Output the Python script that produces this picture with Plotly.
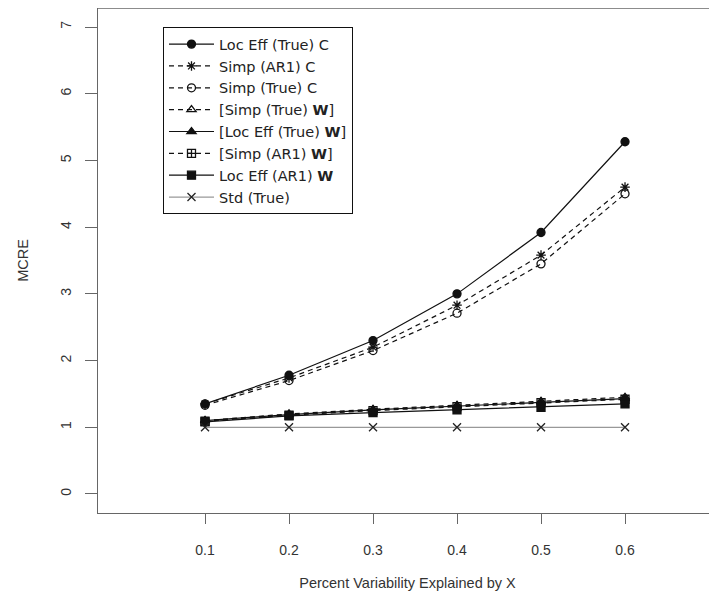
import plotly.graph_objects as go

x_vals = [0.1, 0.2, 0.3, 0.4, 0.5, 0.6]

loc_eff_true_c = [1.35, 1.78, 2.30, 3.00, 3.92, 5.28]
simp_ar1_c = [1.35, 1.74, 2.20, 2.83, 3.58, 4.60]
simp_true_c = [1.33, 1.70, 2.15, 2.71, 3.45, 4.50]
simp_true_w = [1.10, 1.20, 1.27, 1.33, 1.39, 1.45]
loc_eff_true_w = [1.10, 1.19, 1.26, 1.32, 1.38, 1.43]
simp_ar1_w = [1.09, 1.18, 1.25, 1.31, 1.37, 1.42]
loc_eff_ar1_w = [1.08, 1.17, 1.22, 1.26, 1.30, 1.35]
std_true = [1.0, 1.0, 1.0, 1.0, 1.0, 1.0]

series_names = [
    "Loc Eff (True) C",
    "Simp (AR1) C",
    "Simp (True) C",
    "[Simp (True) <b>W</b>]",
    "[Loc Eff (True) <b>W</b>]",
    "[Simp (AR1) <b>W</b>]",
    "Loc Eff (AR1) <b>W</b>",
    "Std (True)",
]
series_values = [loc_eff_true_c, simp_ar1_c, simp_true_c, simp_true_w,
                 loc_eff_true_w, simp_ar1_w, loc_eff_ar1_w, std_true]
styles = [
    dict(dash="solid", symbol="circle", color="#111111"),
    dict(dash="5px,4px", symbol="asterisk-open", color="#111111"),
    dict(dash="5px,4px", symbol="circle-open", color="#111111"),
    dict(dash="5px,4px", symbol="triangle-up-open", color="#111111"),
    dict(dash="solid", symbol="triangle-up", color="#111111"),
    dict(dash="5px,4px", symbol="square-cross-open", color="#111111"),
    dict(dash="solid", symbol="square", color="#111111"),
    dict(dash="solid", symbol="x-thin-open", color="#999999"),
]

x_ticks = [0.1, 0.2, 0.3, 0.4, 0.5, 0.6]
x_ticktext = ["0.1", "0.2", "0.3", "0.4", "0.5", "0.6"]
y_ticks = [0, 1, 2, 3, 4, 5, 6, 7]

fig = go.Figure()
for name, vals, st in zip(series_names, series_values, styles):
    mcolor = "#222222" if st["symbol"] == "x-thin-open" else st["color"]
    fig.add_trace(go.Scatter(
        x=x_vals, y=vals, name=name, mode="lines+markers",
        line=dict(color=st["color"], width=1.2, dash=st["dash"]),
        marker=dict(symbol=st["symbol"], size=8, color=mcolor,
                    line=dict(color=mcolor, width=1.3)),
    ))

# top border of the plotting box
fig.add_shape(type="line", xref="x domain", yref="y domain",
              x0=0, x1=1, y0=1, y1=1,
              line=dict(color="#666666", width=1.3))

fig.update_layout(
    width=709, height=583,
    margin=dict(l=90, r=0, t=0, b=78),
    paper_bgcolor="white", plot_bgcolor="white",
    font=dict(family="Liberation Sans, Arial, sans-serif", size=13, color="#333333"),
    showlegend=True,
    legend=dict(
        x=0.105, y=0.962, xanchor="left", yanchor="top",
        bgcolor="white", bordercolor="#111111", borderwidth=1,
        font=dict(family="DejaVu Sans, sans-serif", size=14.5, color="#222222"),
        itemwidth=45,
    ),
    xaxis=dict(
        range=[-0.0274, 0.7095], tickvals=x_ticks, ticktext=x_ticktext,
        showgrid=False, zeroline=False, showline=True, linecolor="#666666",
        linewidth=1.3, mirror=False, ticks="outside", ticklen=10,
        tickcolor="#666666", tickfont=dict(size=14, color="#333333"),
        ticklabelstandoff=14,
        title=dict(text="Percent Variability Explained by X",
                   font=dict(size=14.5, color="#333333"), standoff=20),
    ),
    yaxis=dict(
        range=[-0.285, 7.285], tickvals=y_ticks,
        showgrid=False, zeroline=False, showline=True, linecolor="#666666",
        linewidth=1.3, mirror=False, ticks="outside", ticklen=12,
        tickcolor="#666666", tickangle=-90, tickfont=dict(size=14, color="#333333"),
        ticklabelstandoff=8,
        title=dict(text="MCRE", font=dict(size=14.5, color="#333333"), standoff=26),
    ),
)

fig.write_html("out.html")
